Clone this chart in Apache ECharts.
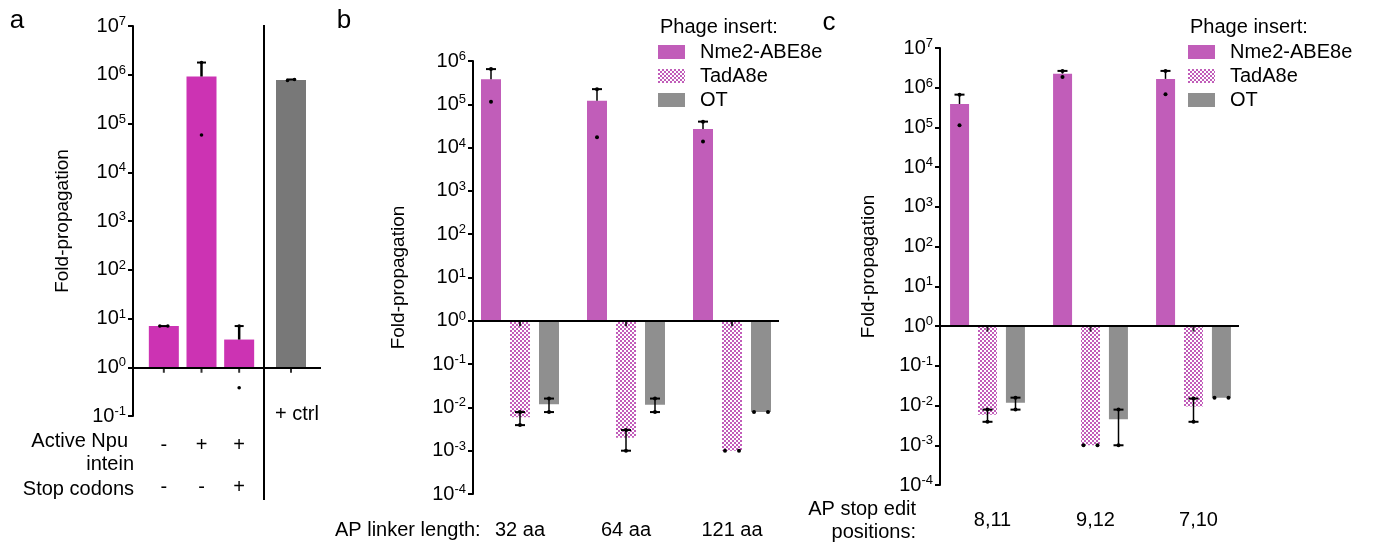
<!DOCTYPE html>
<html>
<head>
<meta charset="utf-8">
<script src="https://cdn.jsdelivr.net/npm/echarts@6/dist/echarts.min.js"></script>
<style>
  html, body { margin: 0; background: #fff; }
  #chart { width: 1383px; height: 547px; }
</style>
</head>
<body>
<div id="chart"></div>
<script>
// ---- panel a ----
const aNpu = ['-', '+', '+'];
const aStop = ['-', '-', '+'];
const aMeans = [7.0, 9.2e5, 3.7];
const aReps = [[7.0, 7.0], [1.78e6, 5.8e4], [7.0, 0.38]];
const aCtrlMeans = [7.8e5];
const aCtrlReps = [[7.6e5, 8.0e5]];

// ---- panel b ----
const bCats = ['32 aa', '64 aa', '121 aa'];
const bNme2 = [3.8e5, 1.2e5, 2.7e4];
const bNme2Reps = [[6.5e5, 1.14e5], [2.24e5, 1.74e4], [3.98e4, 1.39e4]];
const bTad = [0.0059, 0.002, 0.001];
const bTadReps = [[0.0078, 0.0039], [0.003, 0.001], [0.001, 0.001]];
const bOT = [0.0119, 0.0115, 0.0078];
const bOTReps = [[0.016, 0.0078], [0.016, 0.0078], [0.0078, 0.0078]];

// ---- panel c ----
const cCats = ['8,11', '9,12', '7,10'];
const cNme2 = [3.9e5, 2.26e6, 1.67e6];
const cNme2Reps = [[6.7e5, 1.14e5], [2.65e6, 1.87e6], [2.65e6, 6.9e5]];
const cTad = [0.0059, 0.001, 0.0095];
const cTadReps = [[0.0079, 0.0039], [0.001, 0.001], [0.015, 0.0039]];
const cOT = [0.0118, 0.0045, 0.0158];
const cOTReps = [[0.0158, 0.0079], [0.0079, 0.001], [0.0158, 0.0158]];

const legendNames = ['Nme2-ABE8e', 'TadA8e', 'OT'];

const FONT = '"Liberation Sans", Arial, Helvetica, sans-serif';
const MAG_A = '#cc33b3';
const MAG = '#c15db9';
const GREY_A = '#787878';
const GREY = '#8f8f8f';

function checker(c) {
  const cv = document.createElement('canvas');
  cv.width = cv.height = 4;
  const ctx = cv.getContext('2d');
  ctx.fillStyle = '#ffffff';
  ctx.fillRect(0, 0, 4, 4);
  ctx.fillStyle = c;
  ctx.fillRect(0, 0, 2, 2);
  ctx.fillRect(2, 2, 2, 2);
  return cv;
}
const HATCH = { image: checker(MAG), repeat: 'repeat' };

const supLabel = v => '{b|10}{s|' + Math.round(Math.log10(v)) + '}';
const supRich = {
  b: { fontSize: 20, fontFamily: FONT, color: '#000', lineHeight: 22 },
  s: { fontSize: 13, fontFamily: FONT, color: '#000', verticalAlign: 'top', lineHeight: 13 }
};

function frameY(idx, min, max, gap, n) {
  return {
    type: 'log', gridIndex: idx, min: min, max: max, logBase: 10, interval: 1, splitNumber: n,
    name: 'Fold-propagation', nameLocation: 'middle', nameGap: gap, nameRotate: 90,
    nameTextStyle: { fontSize: 19, fontFamily: FONT, color: '#000' },
    axisLine: { show: true, lineStyle: { color: '#000', width: 2 } },
    axisTick: { show: true, length: 5, lineStyle: { color: '#000', width: 2 } },
    axisLabel: { formatter: supLabel, rich: supRich, margin: 7 },
    splitLine: { show: false }, minorTick: { show: false }
  };
}
function hiddenY(idx, min, max) {
  return { type: 'log', gridIndex: idx, min: min, max: max, show: false, splitLine: { show: false } };
}
function frameX(idx) {
  return { type: 'value', gridIndex: idx, min: 0, max: 1, show: false };
}
function catX(idx, cats, margin, extra) {
  return Object.assign({
    type: 'category', gridIndex: idx, data: cats,
    axisLine: { show: false }, axisTick: { show: false }, splitLine: { show: false },
    axisLabel: { margin: margin, fontSize: 20, fontFamily: FONT, color: '#000' }
  }, extra || {});
}

function baseSeries(idx) {
  return {
    type: 'line', xAxisIndex: idx, yAxisIndex: idx, data: [], silent: true,
    markLine: {
      silent: true, symbol: 'none', label: { show: false },
      lineStyle: { color: '#000', width: 2, type: 'solid' },
      data: [{ yAxis: 1 }]
    }
  };
}

function barSeries(idx, name, data, color, w, gap) {
  return {
    type: 'bar', name: name, xAxisIndex: idx, yAxisIndex: idx, data: data,
    barWidth: w, barGap: gap, itemStyle: { color: color }, silent: true, z: 2
  };
}

function errSeries(idx, means, reps, dx, jit, capW, lw, r) {
  return {
    type: 'custom', xAxisIndex: idx, yAxisIndex: idx, z: 10, silent: true, clip: false,
    data: means.map((m, i) => [i, m, reps[i][0], reps[i][1]]),
    renderItem: function (params, api) {
      const i = api.value(0), m = api.value(1), r1 = api.value(2), r2 = api.value(3);
      const hi = Math.max(r1, r2), lo = Math.min(r1, r2);
      const x = api.coord([i, m])[0] + dx;
      const Y = v => api.coord([i, v])[1];
      const same = hi / lo < 1.12;
      const kids = [];
      const vline = (a, b) => kids.push({ type: 'line', shape: { x1: x, y1: Y(a), x2: x, y2: Y(b) }, style: { stroke: '#000', lineWidth: lw } });
      const cap = v => kids.push({ type: 'line', shape: { x1: x - capW / 2, y1: Y(v), x2: x + capW / 2, y2: Y(v) }, style: { stroke: '#000', lineWidth: 2 } });
      if (m >= 1) { vline(m, hi); cap(hi); }
      else if (!same) { vline(hi, lo); cap(hi); cap(lo); }
      [r1, r2].forEach((v, k) => kids.push({
        type: 'circle', shape: { cx: x + (same ? (k ? jit : -jit) : 0), cy: Y(v), r: r }, style: { fill: '#000' }
      }));
      return { type: 'group', children: kids };
    }
  };
}

function tickSeries(idx, n) {
  const d = [];
  for (let i = 0; i < n; i++) d.push([i, 1]);
  return {
    type: 'scatter', xAxisIndex: idx, yAxisIndex: idx, data: d, silent: true, z: 11,
    symbol: 'rect', symbolSize: [2, 5], symbolOffset: [0, 3], itemStyle: { color: '#000' }
  };
}

function txt(s, x, y, size, align, lh) {
  return {
    type: 'text', x: x, y: y, silent: true,
    style: {
      text: s, fill: '#000', font: size + 'px ' + FONT, lineHeight: lh || size,
      textAlign: align, align: align, textVerticalAlign: 'middle', verticalAlign: 'middle'
    }
  };
}

function legendAt(left) {
  return {
    data: legendNames, orient: 'vertical', left: left, top: 37, itemWidth: 27, itemHeight: 14,
    itemGap: 4, icon: 'rect', selectedMode: false,
    textStyle: { fontSize: 20, fontFamily: FONT, color: '#000', padding: [0, 0, 0, 10] }
  };
}

const chart = echarts.init(document.getElementById('chart'));
chart.setOption({
  animation: false,
  backgroundColor: '#fff',
  textStyle: { fontFamily: FONT },
  grid: [
    { left: 133, top: 26, width: 188, height: 390 },   // 0 a frame
    { left: 145, top: 26, width: 113, height: 390 },   // 1 a bars
    { left: 264, top: 26, width: 54, height: 390 },    // 2 a ctrl
    { left: 473, top: 61, width: 306, height: 433 },   // 3 b frame
    { left: 467, top: 61, width: 318, height: 433 },   // 4 b bars
    { left: 940, top: 48, width: 299, height: 437 },   // 5 c frame
    { left: 936, top: 48, width: 309, height: 437 }    // 6 c bars
  ],
  xAxis: [
    frameX(0),
    catX(1, aNpu.map((n, i) => n + '\n' + aStop[i]), 8, { axisLabel: { margin: 8, fontSize: 20, lineHeight: 42, fontFamily: FONT, color: '#000' } }),
    catX(2, ['ctrl'], 8, { axisLabel: { show: false } }),
    frameX(3),
    catX(4, bCats, 26),
    frameX(5),
    catX(6, cCats, 25, { axisLabel: { margin: 25, fontSize: 20, fontFamily: FONT, color: '#000', padding: [0, 0, 0, 10] } })
  ],
  yAxis: [
    frameY(0, 0.1, 1e7, 61, 8),
    hiddenY(1, 0.1, 1e7),
    hiddenY(2, 0.1, 1e7),
    frameY(3, 1e-4, 1e6, 65, 10),
    hiddenY(4, 1e-4, 1e6),
    frameY(5, 1e-4, 1e7, 62, 11),
    hiddenY(6, 1e-4, 1e7)
  ],
  legend: [legendAt(653), legendAt(1183)],
  graphic: [
    { type: 'line', silent: true, shape: { x1: 264, y1: 25, x2: 264, y2: 500 }, style: { stroke: '#000', lineWidth: 2 } },
    txt('a', 17, 21, 26, 'center'),
    txt('b', 344, 21, 26, 'center'),
    txt('c', 829, 23, 26, 'center'),
    txt('Active Npu', 128, 441, 20, 'right'),
    txt('intein', 134, 464, 20, 'right'),
    txt('Stop codons', 134, 489, 20, 'right'),
    txt('+ ctrl', 297, 414, 20, 'center'),
    txt('AP linker length:', 335, 530, 20, 'left'),
    txt('AP stop edit\npositions:', 916, 521, 20, 'right', 23),
    txt('Phage insert:', 660, 27, 20, 'left'),
    txt('Phage insert:', 1190, 27, 20, 'left')
  ],
  series: [
    baseSeries(0),
    barSeries(1, 'a', aMeans, MAG_A, 30, '0%'),
    errSeries(1, aMeans, aReps, 0, 4, 9, 2.5, 1.8),
    tickSeries(1, aMeans.length),
    barSeries(2, '+ ctrl', aCtrlMeans, GREY_A, 30, '0%'),
    errSeries(2, aCtrlMeans, aCtrlReps, 0, 3.5, 9, 2.5, 1.8),
    tickSeries(2, aCtrlMeans.length),

    baseSeries(3),
    barSeries(4, legendNames[0], bNme2, MAG, 20, '45%'),
    barSeries(4, legendNames[1], bTad, HATCH, 20, '45%'),
    barSeries(4, legendNames[2], bOT, GREY, 20, '45%'),
    errSeries(4, bNme2, bNme2Reps, -29, 7, 10, 1.5, 2),
    errSeries(4, bTad, bTadReps, 0, 7, 10, 1.5, 2),
    errSeries(4, bOT, bOTReps, 29, 7, 10, 1.5, 2),
    tickSeries(4, bCats.length),

    baseSeries(5),
    barSeries(6, legendNames[0], cNme2, MAG, 19, '47%'),
    barSeries(6, legendNames[1], cTad, HATCH, 19, '47%'),
    barSeries(6, legendNames[2], cOT, GREY, 19, '47%'),
    errSeries(6, cNme2, cNme2Reps, -28, 7, 10, 1.5, 2),
    errSeries(6, cTad, cTadReps, 0, 7, 10, 1.5, 2),
    errSeries(6, cOT, cOTReps, 28, 7, 10, 1.5, 2),
    tickSeries(6, cCats.length)
  ]
});
</script>
</body>
</html>
